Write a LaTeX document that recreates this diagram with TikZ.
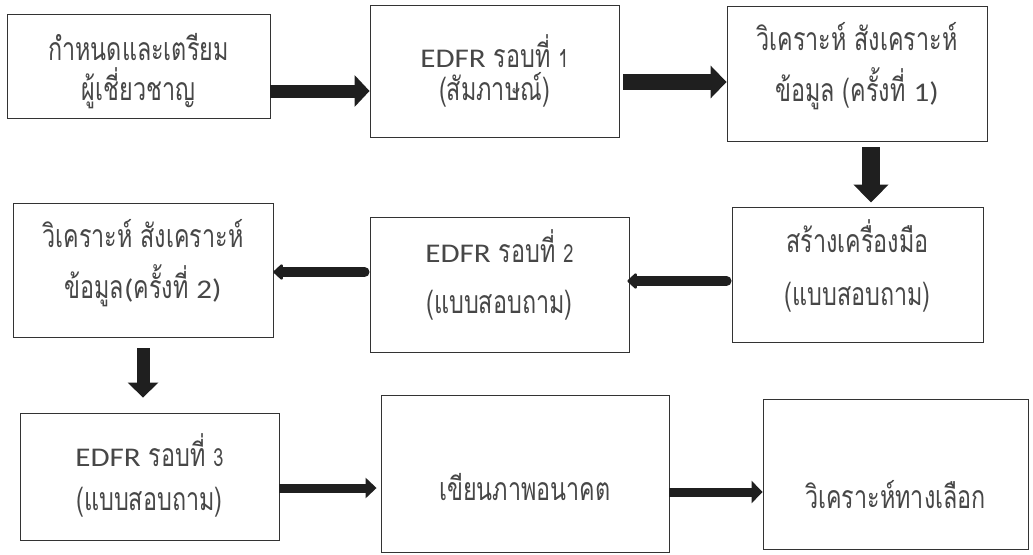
\documentclass[tikz,border=0pt]{standalone}
\usepackage{fontspec}
\setmainfont[Script=Thai, FakeStretch=0.73]{Loma}
\newfontfamily\latin[FakeStretch=1.15]{Carlito}
\usetikzlibrary{arrows.meta,calc}

\begin{document}
\begin{tikzpicture}[x=1pt,y=-1pt,
  box/.style={draw=black!80, line width=0.9pt, inner sep=0pt, fill=white},
  txt/.style={anchor=base, inner sep=0pt, text=black!72, font=\fontsize{32}{36}\selectfont},
  fat/.style args={#1/#2/#3}{draw=black!88, line width=#1pt,
    -{Triangle[width=#2pt, length=#3pt]}},
  slim/.style={draw=black!88, line width=10pt, line cap=round,
    -{Triangle[width=18pt, length=10pt, round]}}
]
% Latin words and figures set in Carlito; small Thai-style round numbers
\newcommand\lt[1]{{\latin\fontsize{27}{30}\selectfont #1}}
\newcommand\rnd[1]{{\fontsize{25}{30}\selectfont #1}}
\useasboundingbox (0,0) rectangle (1033,554);

% ---- boxes ----
\node[box, minimum width=263pt, minimum height=104pt] (b1) at (138.5,66)  {};
\node[box, minimum width=249pt, minimum height=132pt] (b2) at (494.5,71)  {};
\node[box, minimum width=260pt, minimum height=135pt] (b3) at (857,73.5)  {};
\node[box, minimum width=251pt, minimum height=135pt] (b4) at (857.5,274.5) {};
\node[box, minimum width=259pt, minimum height=135pt] (b5) at (499.5,284.5) {};
\node[box, minimum width=260pt, minimum height=134pt] (b6) at (143,270)   {};
\node[box, minimum width=259pt, minimum height=127pt] (b7) at (149.5,476.5) {};
\node[box, minimum width=288pt, minimum height=157pt] (b8) at (525,473.5) {};
\node[box, minimum width=265pt, minimum height=150pt] (b9) at (895.5,474) {};

% ---- texts ----
\node[txt] (t1a) at (b1.center |- 0,60)  {กำหนดและเตรียม};
\node[txt] (t1b) at (b1.center |- 0,100) {ผู้เชี่ยวชาญ};
\node[txt] (t2a) at (b2.center |- 0,67)  {\lt{EDFR} รอบที่ \rnd{1}};
\node[txt] (t2b) at (b2.center |- 0,100) {(สัมภาษณ์)};
\node[txt] (t3a) at (b3.center |- 0,50)  {วิเคราะห์ สังเคราะห์};
\node[txt] (t3b) at (b3.center |- 0,101) {ข้อมูล (ครั้งที่ \lt{1)}};
\node[txt] (t4a) at (b4.center |- 0,252) {สร้างเครื่องมือ};
\node[txt] (t4b) at (b4.center |- 0,305) {(แบบสอบถาม)};
\node[txt] (t5a) at (b5.center |- 0,262) {\lt{EDFR} รอบที่ \rnd{2}};
\node[txt] (t5b) at (b5.center |- 0,313) {(แบบสอบถาม)};
\node[txt] (t6a) at (b6.center |- 0,247) {วิเคราะห์ สังเคราะห์};
\node[txt] (t6b) at (b6.center |- 0,298) {ข้อมูล\lt{(}ครั้งที่ \lt{2)}};
\node[txt] (t7a) at (b7.center |- 0,466) {\lt{EDFR} รอบที่ \rnd{3}};
\node[txt] (t7b) at (b7.center |- 0,510) {(แบบสอบถาม)};
\node[txt] (t8)  at (b8.center |- 0,500) {เขียนภาพอนาคต};
\node[txt] (t9)  at (b9.center |- 0,508) {วิเคราะห์ทางเลือก};

% ---- connectors ----
\draw[fat=13/31/15] (b1.east |- 0,91) -- (b2.west |- 0,91);
\draw[fat=16/32/16] ($(b2.east |- 0,82)+(4,0)$) -- (b3.west |- 0,82);
\draw[fat=18/34/18] ($(b3.south -| 871,0)+(0,6)$) -- ($(b4.north -| 871,0)+(0,-4)$);
\draw[slim] ($(b4.west |- 0,281)+(-5,0)$) -- ($(b5.east |- 0,281)+(-2,0)$);
\draw[slim] ($(b5.west |- 0,272)+(-5,0)$) -- (b6.east |- 0,272);
\draw[fat=13/30/15] ($(b6.south -| 143,0)+(0,11)$) -- ($(b7.north -| 143,0)+(0,-15)$);
\draw[fat=9/20/11] (b7.east |- 0,488) -- ($(b8.west |- 0,488)+(-4,0)$);
\draw[fat=9/22/11] (b8.east |- 0,492) -- (b9.west |- 0,492);
\end{tikzpicture}
\end{document}
